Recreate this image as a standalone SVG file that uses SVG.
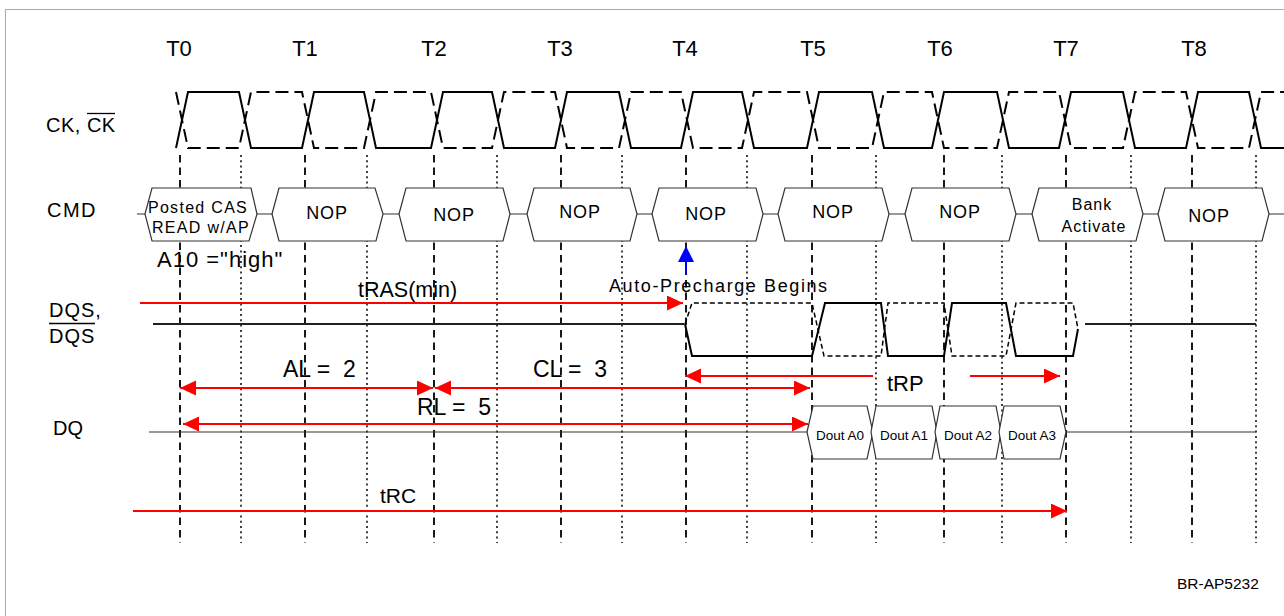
<svg xmlns="http://www.w3.org/2000/svg" width="1284" height="616" viewBox="0 0 1284 616">
<style>
text{font-family:"Liberation Sans",Arial,sans-serif;fill:#000}
.tl{font-size:22px;text-anchor:middle}
.sig{font-size:20px}
.big{font-size:23px}
.cmdbox{fill:#fff;stroke:#333;stroke-width:1.2}
.cmdt{font-size:18px;letter-spacing:0.8px;text-anchor:middle}
.cmds{font-size:16px;letter-spacing:1.3px;text-anchor:middle}
.dq{fill:#fff;stroke:#333;stroke-width:1.2}
.dqt{font-size:13.5px;text-anchor:middle}
.gd{stroke:#000;stroke-width:1.8;stroke-dasharray:7.5 5;fill:none}
.gp{stroke:#000;stroke-width:1.5;stroke-dasharray:2 3.3;fill:none}
.red{stroke:#ff0000;stroke-width:2;fill:none}
.wire{stroke:#333;stroke-width:1.2;fill:none}
</style>
<defs>
<marker id="ah" markerUnits="userSpaceOnUse" markerWidth="17" markerHeight="16" refX="16" refY="7.5" orient="auto-start-reverse">
<path d="M0,0 L16,7.5 L0,15 Z" fill="#ff0000"/>
</marker>
</defs>
<rect x="5.5" y="9.5" width="1300" height="700" fill="none" stroke="#74b9ee" stroke-width="1"/>

<g id="grid">
<path class="gd" d="M180,155V543M305,155V543M434,155V543M561,155V543M686,155V543M812,155V543M944,155V543M1066,155V543M1192,155V543"/>
<path class="gp" d="M241,155V543M367,155V543M497,155V543M622,155V543M747,155V543M876,155V543M1002,155V543M1131,155V543M1256,155V543"/>
</g>

<g id="time-labels">
<text class="tl" x="179" y="56">T0</text>
<text class="tl" x="305" y="56">T1</text>
<text class="tl" x="434" y="56">T2</text>
<text class="tl" x="560" y="56">T3</text>
<text class="tl" x="685" y="56">T4</text>
<text class="tl" x="813" y="56">T5</text>
<text class="tl" x="940" y="56">T6</text>
<text class="tl" x="1066" y="56">T7</text>
<text class="tl" x="1194" y="56">T8</text>
</g>

<g id="signal-labels">
<text class="sig" x="46" y="132" style="letter-spacing:0.5px">CK, CK</text>
<line x1="87" y1="113.5" x2="115" y2="113.5" stroke="#000" stroke-width="1.3"/>
<text class="sig" x="47" y="217" style="letter-spacing:1.5px">CMD</text>
<text class="sig" x="49" y="317" style="letter-spacing:1px">DQS,</text>
<text class="sig" x="49" y="343" style="letter-spacing:1px">DQS</text>
<line x1="49" y1="323.5" x2="95" y2="323.5" stroke="#000" stroke-width="1.3"/>
<text class="sig" x="53" y="435">DQ</text>
</g>

<g id="clock">
<path fill="none" stroke="#000" stroke-width="2" d="M176,148 L188,92 L239,92 L251,148 L302,148 L314,92 L364,92 L376,148 L431,148 L443,92 L492,92 L504,148 L555,148 L567,92 L619,92 L631,148 L681,148 L693,92 L742,92 L754,148 L807,148 L819,92 L872,92 L884,148 L932,148 L944,92 L997,92 L1009,148 L1059,148 L1071,92 L1123,92 L1135,148 L1186,148 L1198,92 L1249,92 L1261,148 L1284,148"/>
<path fill="none" stroke="#000" stroke-width="2" stroke-dasharray="13 6" d="M176,92 L188,148 L239,148 L251,92 L302,92 L314,148 L364,148 L376,92 L431,92 L443,148 L492,148 L504,92 L555,92 L567,148 L619,148 L631,92 L681,92 L693,148 L742,148 L754,92 L807,92 L819,148 L872,148 L884,92 L932,92 L944,148 L997,148 L1009,92 L1059,92 L1071,148 L1123,148 L1135,92 L1186,92 L1198,148 L1249,148 L1261,92 L1284,92"/>
</g>

<g id="cmd-wire">
<path class="wire" d="M137,214H145M257,214H272M383,214H399M510,214H527M637,214H652M763,214H778M889,214H905M1016,214H1032M1143,214H1158M1269,214H1284"/>
</g>

<g id="cmd0">
<path class="cmdbox" d="M145,214 L152,188 L251,188 L257,214 L249,241 L152,241 Z"/>
<text class="cmds" x="198" y="213">Posted CAS</text>
<text class="cmds" x="201" y="233">READ w/AP</text>
</g>
<g id="cmd1">
<path class="cmdbox" d="M272,214 L279,188 L375,188 L383,214 L376,241 L279,241 Z"/>
<text class="cmdt" x="327" y="219">NOP</text>
</g>
<g id="cmd2">
<path class="cmdbox" d="M399,214 L406,188 L503,188 L510,214 L503,241 L406,241 Z"/>
<text class="cmdt" x="454" y="221">NOP</text>
</g>
<g id="cmd3">
<path class="cmdbox" d="M527,214 L534,188 L630,188 L637,214 L630,241 L534,241 Z"/>
<text class="cmdt" x="580" y="218">NOP</text>
</g>
<g id="cmd4">
<path class="cmdbox" d="M652,214 L659,188 L756,188 L763,214 L756,241 L659,241 Z"/>
<text class="cmdt" x="706" y="220">NOP</text>
</g>
<g id="cmd5">
<path class="cmdbox" d="M778,214 L785,188 L882,188 L889,214 L882,241 L785,241 Z"/>
<text class="cmdt" x="833" y="218">NOP</text>
</g>
<g id="cmd6">
<path class="cmdbox" d="M905,214 L912,188 L1009,188 L1016,214 L1009,241 L912,241 Z"/>
<text class="cmdt" x="960" y="218">NOP</text>
</g>
<g id="cmd7">
<path class="cmdbox" d="M1032,214 L1039,188 L1136,188 L1143,214 L1136,241 L1039,241 Z"/>
<text class="cmds" x="1092" y="210" style="letter-spacing:1px">Bank</text>
<text class="cmds" x="1094" y="232" style="letter-spacing:1px">Activate</text>
</g>
<g id="cmd8">
<path class="cmdbox" d="M1158,214 L1165,188 L1262,188 L1269,214 L1262,241 L1165,241 Z"/>
<text class="cmdt" x="1209" y="222">NOP</text>
</g>

<text class="big" x="157" y="267" style="font-size:22px;letter-spacing:1px">A10 =&quot;high&quot;</text>

<g id="autoprecharge">
<line x1="686" y1="261" x2="686" y2="273" stroke="#0000ff" stroke-width="2"/>
<path d="M686,246 L694,262 L678,262 Z" fill="#0000ff"/>
<text x="609" y="292" style="font-size:18px;letter-spacing:1.6px">Auto-Precharge Begins</text>
</g>

<g id="dqs">
<path fill="none" stroke="#222" stroke-width="2" d="M153,324 H684"/>
<path fill="none" stroke="#000" stroke-width="2" d="M685,324 L692,356 L812,356 L825,303 L881,303 L888,356 L944,356 L952,303 L1006,303 L1016,356 L1073,356 L1078,329"/>
<path fill="none" stroke="#000" stroke-width="1.5" stroke-dasharray="5 3" d="M685,324 L692,303 L812,303 L824,356 L881,356 L888,303 L944,303 L952,356 L1006,356 L1016,303 L1073,303 L1078,329"/>
<path fill="none" stroke="#222" stroke-width="2" d="M1085,324 H1256"/>
</g>

<g id="dq">
<path class="wire" d="M149,432 H807 M1066,432 H1256"/>
<g id="dout0">
<path class="dq" d="M807,432 L813,406 L867,406 L873,432 L867,459 L813,459 Z"/>
<text class="dqt" x="840" y="440">Dout A0</text>
</g>
<g id="dout1">
<path class="dq" d="M871,432 L876,406 L932,406 L937,432 L932,459 L876,459 Z"/>
<text class="dqt" x="904" y="440">Dout A1</text>
</g>
<g id="dout2">
<path class="dq" d="M935,432 L940,406 L996,406 L1001,432 L996,459 L940,459 Z"/>
<text class="dqt" x="968" y="440">Dout A2</text>
</g>
<g id="dout3">
<path class="dq" d="M999,432 L1004,406 L1060,406 L1066,432 L1060,459 L1004,459 Z"/>
<text class="dqt" x="1032" y="440">Dout A3</text>
</g>
</g>

<g id="connectors">
<path class="red" d="M140,303 H683" marker-end="url(#ah)"/>
<path class="red" d="M180,388 H433" marker-start="url(#ah)" marker-end="url(#ah)"/>
<path class="red" d="M435,388 H810" marker-start="url(#ah)" marker-end="url(#ah)"/>
<path class="red" d="M183,424 H808" marker-start="url(#ah)" marker-end="url(#ah)"/>
<path class="red" d="M685,376 H873" marker-start="url(#ah)"/>
<path class="red" d="M970,376 H1060" marker-end="url(#ah)"/>
<path class="red" d="M133,511 H1067" stroke-width="2.5" marker-end="url(#ah)"/>
</g>

<g id="timing-labels">
<text x="358" y="297" style="font-size:21.5px">tRAS(min)</text>
<text class="big" x="283" y="377" xml:space="preserve">AL =  2</text>
<text class="big" x="533" y="377" xml:space="preserve">CL =  3</text>
<text class="big" x="417" y="415" xml:space="preserve">RL =  5</text>
<text x="887" y="391" style="font-size:22px">tRP</text>
<text x="380" y="503" style="font-size:21px">tRC</text>
</g>

<text x="1177" y="589" style="font-size:15.5px">BR-AP5232</text>
</svg>
